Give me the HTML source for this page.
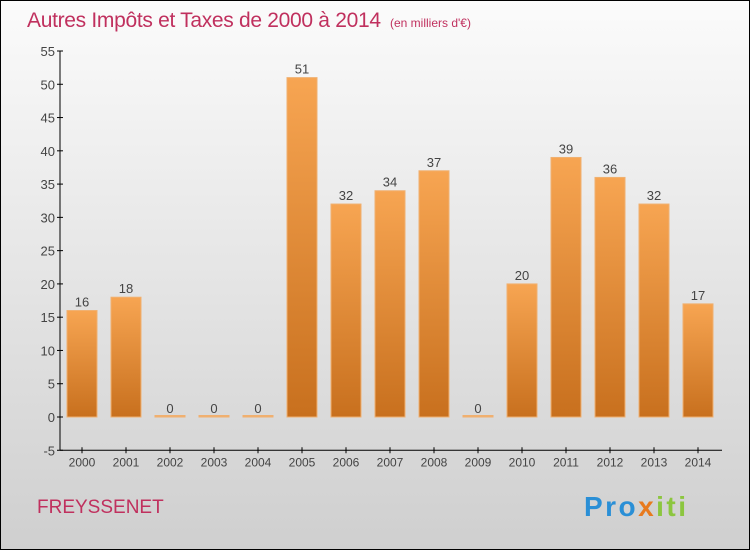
<!DOCTYPE html>
<html><head><meta charset="utf-8"><style>
body{margin:0;}
#c{position:relative;width:750px;height:550px;overflow:hidden;}
</style></head><body>
<div id="c">
<svg id="s" width="750" height="550" xmlns="http://www.w3.org/2000/svg" font-family="Liberation Sans, sans-serif">
<defs>
<linearGradient id="bg" x1="0" y1="0" x2="0" y2="1"><stop offset="0" stop-color="#fbfbfb"/><stop offset="1" stop-color="#cfcfcf"/></linearGradient>
<linearGradient id="bar" x1="0" y1="0" x2="0" y2="1"><stop offset="0" stop-color="#f7a552"/><stop offset="1" stop-color="#c8701e"/></linearGradient>
</defs>
<rect x="0.5" y="0.5" width="749" height="549" fill="url(#bg)" stroke="#000"/>
<text x="27" y="27" font-size="21" fill="#c0305e" textLength="354">Autres Impôts et Taxes de 2000 à 2014</text>
<text x="390" y="27" font-size="12" fill="#c0305e">(en milliers d'€)</text>
<text x="37" y="513" font-size="19" fill="#c0305e">FREYSSENET</text>
<text x="584" y="516" font-size="28" font-weight="bold" textLength="102"><tspan fill="#2a8fd6">Pro</tspan><tspan fill="#e87a1e">x</tspan><tspan fill="#8cc63f">iti</tspan></text>
<g id="g"></g>
</svg>
</div>
<script>
const categories=["2000","2001","2002","2003","2004","2005","2006","2007","2008","2009","2010","2011","2012","2013","2014"];
const values=[16,18,0,0,0,51,32,34,37,0,20,39,36,32,17];
const yTicks=[-5,0,5,10,15,20,25,30,35,40,45,50,55];
const NS="http://www.w3.org/2000/svg";
const g=document.getElementById('g');
const y=v=>417-(v*366/55);
const x=i=>82+i*44;
function mk(t,a,txt){const e=document.createElementNS(NS,t);for(const k in a)e.setAttribute(k,a[k]);if(txt!==undefined)e.textContent=txt;g.appendChild(e);return e;}
let ax=mk('line',{x1:60,y1:y(55),x2:60,y2:y(-5),stroke:'#000'});


let bx=mk('line',{x1:60,y1:y(-5),x2:722,y2:y(-5),stroke:'#000'});


yTicks.forEach(t=>{
 let l=mk('line',{x1:57,y1:y(t),x2:63,y2:y(t),stroke:'#000'});
 
 
 let tx=mk('text',{x:55,y:y(t)+5,'font-size':13,fill:'#444','text-anchor':'end'},t);
 
 
});
categories.forEach((c,i)=>{
 const v=values[i];
 let l=mk('line',{x1:x(i),y1:y(-5)-3,x2:x(i),y2:y(-5)+3,stroke:'#000'});
 
 
 let tl=mk('text',{x:x(i),y:y(-5)+16,'font-size':12,fill:'#444','text-anchor':'middle'},c);
 
 
 let h=Math.max(y(0)-y(v),1.5);
 let r=mk('rect',{x:x(i)-15,y:y(0)-h,width:30,height:h,fill:v>0?'url(#bar)':'#f0b070',stroke:'#f0b070','stroke-width':1});
 
 
 let vl=mk('text',{x:x(i),y:y(v)-4,'font-size':13,fill:'#444','text-anchor':'middle'},v);
 
 
});
</script>
</body></html>
